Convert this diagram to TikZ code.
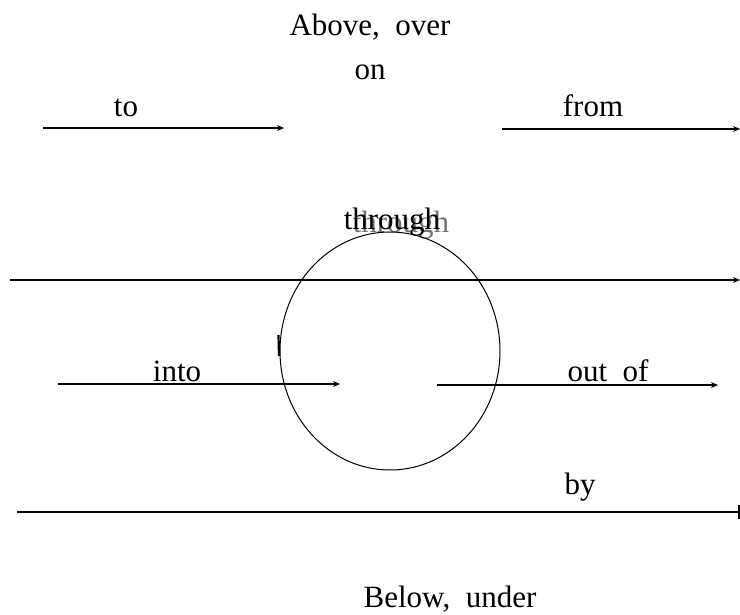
\documentclass[tikz,border=0pt]{standalone}
\usepackage{fontspec}
\setmainfont{Liberation Serif}
\usetikzlibrary{arrows.meta,shapes.geometric}
\newcommand{\wsp}{\hspace{0.5em}}
\begin{document}
\begin{tikzpicture}[x=1pt,y=-1pt,
  lbl/.style={anchor=base,inner sep=0pt,font=\fontsize{31}{36}\selectfont},
  arr/.style={line width=1.2pt,-{Stealth[length=7pt,width=6pt]}},
  plain/.style={line width=1.2pt}]
\useasboundingbox[fill=white] (0,0) rectangle (740,615);
% texts
\node[lbl] (above) at (370,36) {Above,\wsp over};
\node[lbl] (on) at (370,80) {on};
\node[lbl] (to) at (126,117) {to};
\node[lbl] (from) at (593,117) {from};
\node[lbl,text=black!55] (throughg) at (401,233) {through};
\node[lbl] (through) at (392,230) {through};
\node[lbl] (into) at (177,381) {into};
\node[lbl] (outof) at (608,381) {out\wsp of};
\node[lbl] (by) at (580,494) {by};
\node[lbl] (below) at (450,607) {Below,\wsp under};
% ellipse
\node[draw,line width=1pt,ellipse,minimum width=220pt,minimum height=238pt,inner sep=0pt] (circ) at (390,351) {};
\draw[line width=2.2pt] (278.5,335) coordinate (m1) -- (279,356) coordinate (m2);
% lines
\coordinate (a1) at (43,128); \coordinate (a2) at (284,128);
\coordinate (b1) at (502,129); \coordinate (b2) at (740,129);
\coordinate (c1) at (10,280); \coordinate (c2) at (740,280);
\coordinate (d1) at (58,384); \coordinate (d2) at (340,384);
\coordinate (e1) at (437,385); \coordinate (e2) at (718,385);
\coordinate (f1) at (17,512); \coordinate (f2) at (740,512);
\draw[arr] (a1) -- (a2);
\draw[arr] (b1) -- (b2);
\draw[arr] (c1) -- (c2);
\draw[arr] (d1) -- (d2);
\draw[arr] (e1) -- (e2);
\draw[plain] (f1) -- (f2);
\draw[line width=2pt] (738.5,505) coordinate (t1) -- (738.5,519) coordinate (t2);
\end{tikzpicture}
\end{document}
